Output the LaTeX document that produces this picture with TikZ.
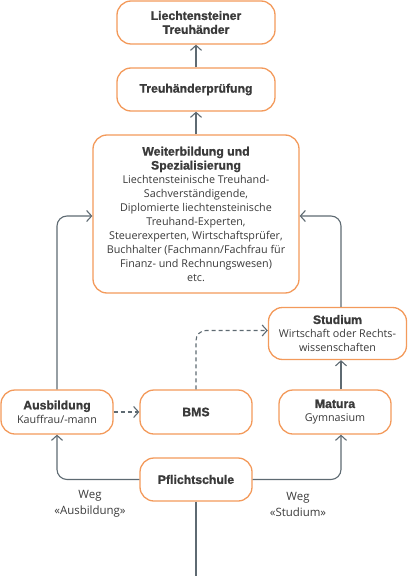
\documentclass[tikz,border=0pt]{standalone}
\usepackage{fontspec}
\setmainfont{Open Sans}
\newfontfamily\headfont{Liberation Sans}[BoldFeatures={FakeBold=1.2}]
\usetikzlibrary{arrows.meta}
\definecolor{boxorange}{HTML}{F39A5B}
\definecolor{linegray}{HTML}{5E6A72}
\definecolor{textgray}{HTML}{3A3A3A}
\newcommand{\hd}[1]{{\headfont\bfseries\fontsize{12.3}{17}\selectfont #1}}
\begin{document}
\begin{tikzpicture}[x=1bp,y=-1bp,
    box/.style={draw=boxorange, line width=1.3bp, rounded corners=14bp, fill=white,
        align=center, inner sep=2bp, text=textgray, font=\fontsize{10.8}{14}\selectfont},
    conn/.style={draw=linegray, line width=1.1bp, rounded corners=10bp,
        -{Straight Barb[length=5bp,width=11bp]}},
    dashconn/.style={conn, dash pattern=on 4bp off 3bp},
    weglabel/.style={align=center, text=textgray, font=\fontsize{11.5}{16}\selectfont}]
    \useasboundingbox (0,0) rectangle (407,576);

    % boxes
    \node[box, minimum width=158bp, minimum height=43bp] (treu) at (196,22.5)
        {\hd{Liechtensteiner}\\\hd{Treuhänder}};
    \node[box, minimum width=158bp, minimum height=43bp] (pruef) at (196,89.5)
        {\hd{Treuhänderprüfung}};
    \node[box, minimum width=206bp, minimum height=158bp] (weiter) at (196,214)
        {\hd{Weiterbildung und}\\\hd{Spezialisierung}\\
        Liechtensteinische Treuhand-\\Sachverständigende,\\
        Diplomierte liechtensteinische\\Treuhand-Experten,\\
        Steuerexperten, Wirtschaftsprüfer,\\
        Buchhalter (Fachmann/Fachfrau für\\
        Finanz- und Rechnungswesen)\\etc.};
    \node[box, minimum width=138bp, minimum height=52bp] (studium) at (337.5,333.5)
        {\hd{Studium}\\Wirtschaft oder Rechts-\\wissenschaften};
    \node[box, minimum width=112bp, minimum height=44bp] (ausb) at (57,412)
        {\hd{Ausbildung}\\Kauffrau/-mann};
    \node[box, minimum width=112bp, minimum height=44bp] (bms) at (196,412)
        {\hd{BMS}};
    \node[box, minimum width=112bp, minimum height=44bp] (matura) at (335,412)
        {\hd{Matura}\\Gymnasium};
    \node[box, minimum width=112bp, minimum height=43bp] (pflicht) at (196,479.5)
        {\hd{Pflichtschule}};

    \node[weglabel] (wegA) at (90,504) {Weg\\«Ausbildung»};
    \node[weglabel] (wegS) at (298,504) {Weg\\«Studium»};

    \coordinate (rline) at (341,0);
    \coordinate (bottom) at (196,576);

    % connectors
    \draw[conn] (pruef) -- (treu);
    \draw[conn] (weiter) -- (pruef);
    \draw[conn] (ausb.north) |- ([yshift=-2bp]weiter.west);
    \draw[conn] (studium.north -| rline) |- ([yshift=-2bp]weiter.east);
    \draw[conn] (matura.north -| rline) -- (studium.south -| rline);
    \draw[conn] (pflicht.west) -| (ausb.south);
    \draw[conn] (pflicht.east) -| (matura.south -| rline);
    \draw[dashconn] (ausb) -- (bms);
    \draw[dashconn] (bms.north) |- ([yshift=3bp]studium.west);
    \draw[draw=linegray, line width=1.1bp] (pflicht.south) -- (bottom);
\end{tikzpicture}
\end{document}
